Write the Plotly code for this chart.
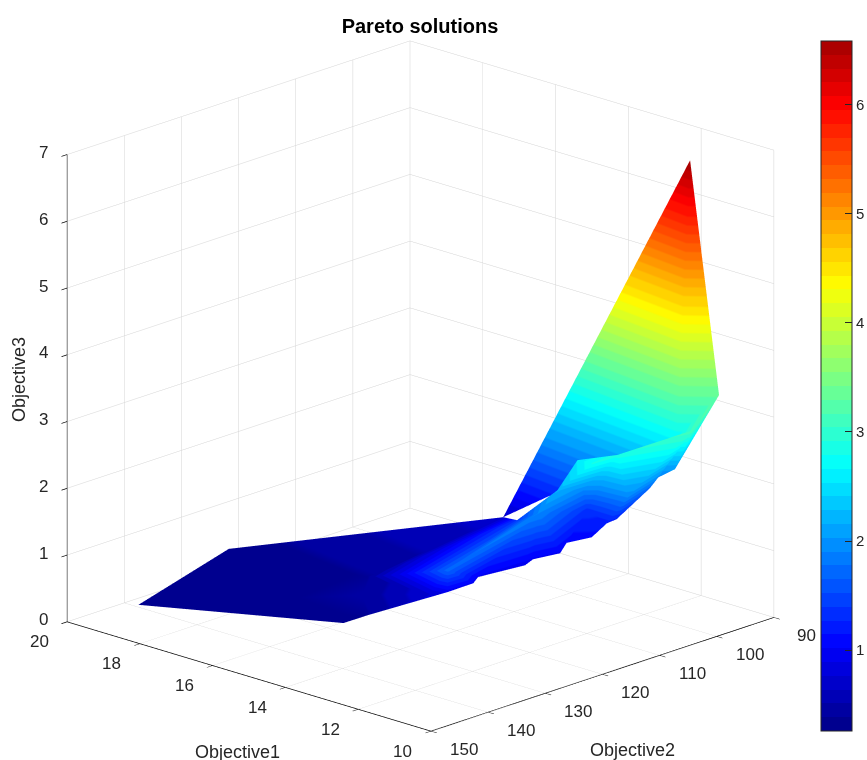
import plotly.graph_objects as go

# ---- data (Objective1, Objective2, Objective3) ----
names = ["V1","V2","V3","V4","P","V6","S",
         "F1","F2","F3","F4","F5","F6","F7","F8","F9","F10","F11","F12","F13",
         "R1","R2","R3","R4","R5","R6",
         "I1","I2","I3","I4","I7","L1","L2","L3","L4"]
obj1 = [18.84,19.97,15.09,16.23,11.99,10.88,11.40,
        13.05,12.92,13.12,13.10,13.10,12.97,13.19,12.92,13.02,12.91,12.47,12.39,11.92,
        13.87,12.27,12.27,11.18,11.05,10.31,
        12.77,13.44,12.42,11.83,11.82,16.51,15.75,13.80,14.85]
obj2 = [144.9,121.9,132.9,97.7,92.0,94.0,98.1,
        127.7,124.0,121.9,113.8,112.4,108.5,106.2,103.3,100.0,99.0,96.0,95.0,95.1,
        110.3,113.4,109.9,114.1,110.7,102.2,
        105.7,100.8,115.8,135.4,104.0,119.6,125.45,126.05,130.1]
obj3 = [0.30,0.30,0.30,0.70,6.58,3.30,2.70,
        0.95,1.00,1.00,0.95,1.00,1.00,1.05,1.10,1.20,1.25,1.70,1.85,2.05,
        1.40,2.20,2.55,2.80,2.85,3.10,
        1.90,1.35,1.90,1.70,1.90,0.38,0.40,0.75,0.38]
facets = """V1 V2 L1;V1 L1 L2;V1 L2 L4;V1 L4 V3;V2 V4 L1;V4 R1 L1;
L1 L2 L3;L2 L4 L3;L4 F1 L3;L1 L3 I4;L3 F1 I4;L1 I4 R1;
I4 F1 F2;I4 F2 F3;I4 F3 I3;I4 I3 R1;R1 I3 R2;F3 F4 I3;F4 F5 I3;F5 F6 I3;
I3 R2 I1;R2 R4 I1;I1 I2 I3;I3 I2 F6;F6 I2 F7;F7 I2 F8;I2 F9 F8;
R4 R5 I1;I1 R5 I2;R5 I7 I2;I2 I7 F9;F9 I7 F10;F10 I7 F11;I7 R5 R6;I7 R6 F11;
F11 R6 F12;F12 R6 F13;F13 R6 V6;
R2 R3 R4;R3 R5 R4;
V4 P S;P S V6;S R6 V6"""
x_ticks = [10,12,14,16,18,20]
y_ticks = [90,100,110,120,130,140,150]
z_ticks = [0,1,2,3,4,5,6,7]
cbar_ticks = [1,2,3,4,5,6]
cmin, cmax = 0.26, 6.58

idx = {n:k for k,n in enumerate(names)}
tri = [[idx[v] for v in f.split()] for f in facets.replace("\n","").split(";")]

def jet(f):
    t = 0.0156+0.94*f
    def c(v): return max(0.0,min(1.0,v))
    return (c(1.5-abs(4*t-3)), c(1.5-abs(4*t-2)), c(1.5-abs(4*t-1)))
N = 50
cs = []
for i in range(N):
    r,g,b = jet(i/(N-1))
    col = f"rgb({int(r*255)},{int(g*255)},{int(b*255)})"
    cs += [[i/N,col],[(i+1)/N,col]]

W, H = 867, 760
def fx(p): return p/W
def fy(p): return 1-p/H

FONT = "Liberation Sans"
TXT = "#262626"
fig = go.Figure(go.Mesh3d(
    x=obj1,y=obj2,z=obj3,
    i=[t[0] for t in tri],j=[t[1] for t in tri],k=[t[2] for t in tri],
    intensity=obj3,colorscale=cs,cmin=cmin,cmax=cmax,
    flatshading=False,
    lighting=dict(ambient=1,diffuse=0,specular=0,fresnel=0,roughness=1),
    colorbar=dict(x=fx(821),xanchor="left",xpad=0,y=fy(41),yanchor="top",ypad=0,
                  len=690/H,lenmode="fraction",thickness=31,thicknessmode="pixels",
                  tickvals=cbar_ticks,ticks="inside",ticklen=7,tickcolor=TXT,
                  tickfont=dict(family=FONT,size=15,color=TXT),
                  outlinecolor=TXT,outlinewidth=1)))
def ax(rng,tv):
    return dict(range=rng,tickvals=tv,title=dict(text=""),showbackground=False,
                showgrid=True,gridcolor="#d4d4d4",gridwidth=1,zeroline=False,
                showline=True,linecolor="#000000",linewidth=1.5,ticks="outside",ticklen=8,
                tickcolor="#000000",tickwidth=1.5,showticklabels=False,showspikes=False)
def lab(x,y,z,t,dx,dy):
    return dict(x=x,y=y,z=z,text=str(t),showarrow=False,xshift=dx,yshift=-dy,
                font=dict(family=FONT,size=17,color=TXT))
scene_ann = ([lab(v,150,0,v,-28,20) for v in x_ticks]
             +[lab(10,v,0,v,33,18) for v in y_ticks]
             +[lab(20,150,v,v,-24,-2) for v in z_ticks])
k=1.9
s=1.33
fig.update_layout(
    width=W,height=H,margin=dict(l=0,r=0,t=0,b=0,autoexpand=False),paper_bgcolor="white",
    title=dict(text="<b>Pareto solutions</b>",x=fx(420),xanchor="center",y=fy(26),yanchor="middle",
               font=dict(family=FONT,size=20,color="black")),
    scene=dict(domain=dict(x=[fx(8),fx(833)],y=[0,748/H]),
        xaxis=ax([10,20],x_ticks),yaxis=ax([90,150],y_ticks),zaxis=ax([0,7],z_ticks),
        aspectmode="manual",aspectratio=dict(x=1.01*s,y=1.0*s,z=0.99*s),
        annotations=scene_ann,
        camera=dict(projection=dict(type="orthographic"),up=dict(x=0,y=0,z=1),
                    center=dict(x=0,y=0,z=0),eye=dict(x=-0.654*k,y=0.687*k,z=0.3155*k))),
    annotations=[
        dict(text="Objective1",x=fx(237),y=fy(752),xref="paper",yref="paper",showarrow=False,
             xanchor="center",yanchor="middle",font=dict(family=FONT,size=18,color=TXT)),
        dict(text="Objective2",x=fx(632),y=fy(750),xref="paper",yref="paper",showarrow=False,
             xanchor="center",yanchor="middle",font=dict(family=FONT,size=18,color=TXT)),
        dict(text="Objective3",x=fx(19),y=fy(380),xref="paper",yref="paper",showarrow=False,textangle=-90,
             xanchor="center",yanchor="middle",font=dict(family=FONT,size=18,color=TXT)),
    ])
fig.write_html("out.html", config=dict(displayModeBar=False),
               post_script="document.body.style.margin='0';document.documentElement.style.overflow='hidden';")
